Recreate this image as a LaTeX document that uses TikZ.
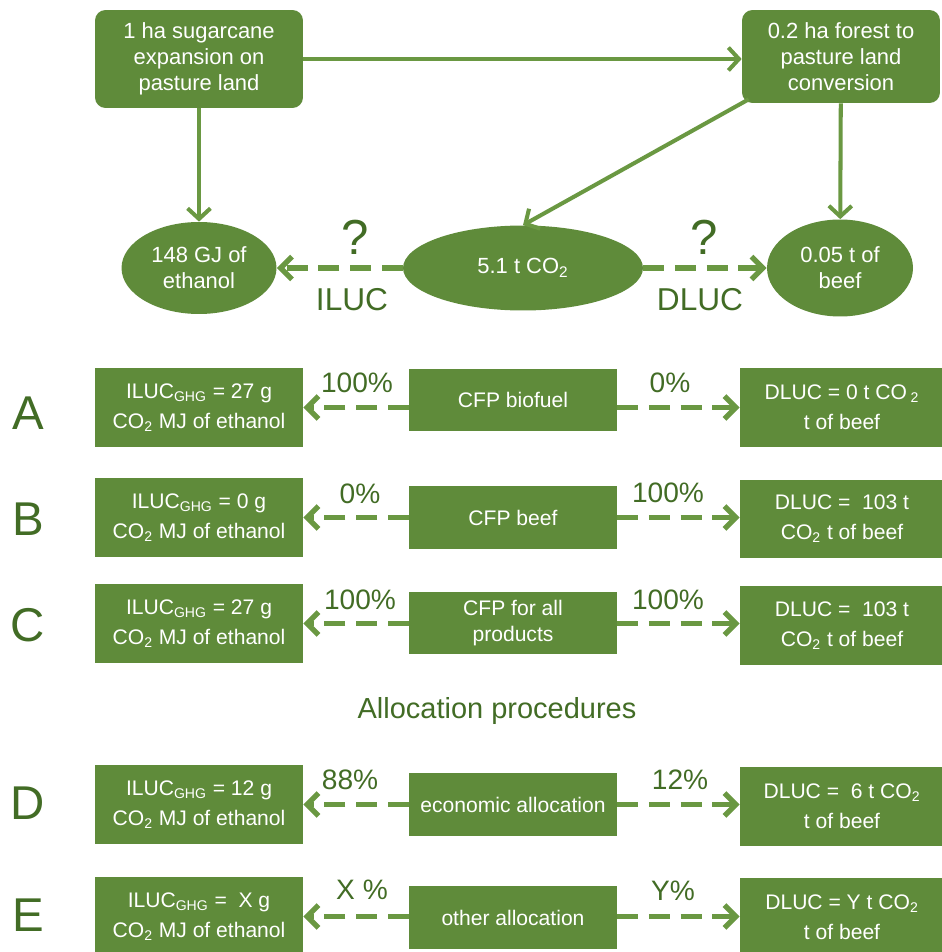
\documentclass[tikz,border=0pt]{standalone}
\usepackage{fontspec}
\setmainfont{Liberation Sans}
\usetikzlibrary{arrows.meta,shapes.geometric}

\definecolor{leaf}{HTML}{5F8B3A}
\definecolor{leafline}{HTML}{6A9842}
\definecolor{leafdark}{HTML}{426C25}

\begin{document}
\begin{tikzpicture}[x=0.02cm, y=-0.02cm,
  roundbox/.style={fill=leaf, rounded corners=6pt, text=white, align=center, inner sep=0pt,
    font=\fontsize{12.5}{14.8}\selectfont},
  blob/.style={ellipse, fill=leaf, text=white, align=center, inner sep=0pt,
    font=\fontsize{12.5}{14.8}\selectfont},
  sidebox/.style={fill=leaf, text=white, align=center, inner sep=0pt, minimum height=1.58cm,
    font=\fontsize{12}{17}\selectfont},
  midbox/.style={fill=leaf, text=white, align=center, inner sep=0pt, minimum width=4.16cm,
    minimum height=1.26cm, font=\fontsize{12}{14.5}\selectfont},
  flow/.style={line width=2.3pt, draw=leafline, -{Straight Barb[length=6pt,width=13pt]}},
  share/.style={line width=3pt, draw=leafline, dash pattern=on 12pt off 6pt,
    -{Straight Barb[length=6.5pt,width=13pt]}},
  pct/.style={text=leafdark, font=\fontsize{16}{18}\selectfont, inner sep=0pt},
  letter/.style={text=leafdark, font=\fontsize{27}{30}\selectfont, inner sep=0pt}]
\useasboundingbox (0,0) rectangle (941,952);

% land use change
\node[roundbox, minimum width=4.16cm, minimum height=1.96cm] (cane) at (199,59)
  {1 ha sugarcane\\expansion on\\pasture land};
\node[roundbox, minimum width=3.96cm, minimum height=1.86cm] (forest) at (841,56.5)
  {0.2 ha forest to\\pasture land\\conversion};
\node[blob, minimum width=3.1cm, minimum height=1.84cm] (ethanol) at (199,268) {148 GJ of\\ethanol};
\node[blob, minimum width=4.8cm, minimum height=1.7cm] (co2) at (523,268) {5.1 t CO\textsubscript{2}};
\node[blob, minimum width=2.92cm, minimum height=1.94cm] (beef) at (840,268) {0.05 t of\\beef};
\path (cane.east) edge[flow] (cane.east -| forest.west);
\path (cane) edge[flow] (ethanol);
\path (forest) edge[flow] (beef);
\path ([shift={(7,-4)}]forest.south west) edge[flow] (co2.north);
\path (co2) edge[share] (ethanol);
\path (co2) edge[share] (beef);
\node[pct, font=\fontsize{28}{30}\selectfont] (q1) at (355,237) {?};
\node[pct, font=\fontsize{28}{30}\selectfont] (q2) at (704,237) {?};
\node[pct, font=\fontsize{18}{20}\selectfont] (iluc) at (352,300) {ILUC};
\node[pct, font=\fontsize{18}{20}\selectfont] (dluc) at (700,300) {DLUC};

% footprint cases
\node[letter] (la) at (28,413) {A};
\node[sidebox, minimum width=4.16cm] (ilucA) at (199,407.5) {ILUC\textsubscript{GHG} = 27 g\\CO\textsubscript{2} MJ of ethanol};
\node[midbox] (cfpA) at (513,400) {CFP biofuel};
\node[sidebox, minimum width=4.08cm] (dlucA) at (842,407.5) {DLUC = 0 t CO\,\textsubscript{2}\\t of beef};
\path (cfpA.west |- ilucA.east) edge[share] (ilucA.east);
\path (cfpA.east |- dlucA.west) edge[share] (dlucA.west);
\node[pct] (pA1) at (357,383) {100\%};
\node[pct] (pA2) at (670,383) {0\%};

\node[letter] (lb) at (28,519) {B};
\node[sidebox, minimum width=4.16cm] (ilucB) at (199,517.5) {ILUC\textsubscript{GHG} = 0 g\\CO\textsubscript{2} MJ of ethanol};
\node[midbox] (cfpB) at (513,517.5) {CFP beef};
\node[sidebox, minimum width=4.08cm] (dlucB) at (842,519) {DLUC = \ 103 t\\CO\textsubscript{2} t of beef};
\path (cfpB.west |- ilucB.east) edge[share] (ilucB.east);
\path (cfpB.east |- ilucB.east) edge[share] (dlucB.west |- ilucB.east);
\node[pct] (pB1) at (360,494) {0\%};
\node[pct] (pB2) at (668,493) {100\%};

\node[letter] (lc) at (28,625) {C};
\node[sidebox, minimum width=4.16cm] (ilucC) at (199,623.5) {ILUC\textsubscript{GHG} = 27 g\\CO\textsubscript{2} MJ of ethanol};
\node[midbox] (cfpC) at (513,623) {CFP for all\\products};
\node[sidebox, minimum width=4.08cm] (dlucC) at (842,625.5) {DLUC = \ 103 t\\CO\textsubscript{2} t of beef};
\path (cfpC.west |- ilucC.east) edge[share] (ilucC.east);
\path (cfpC.east |- ilucC.east) edge[share] (dlucC.west |- ilucC.east);
\node[pct] (pC1) at (360,600) {100\%};
\node[pct] (pC2) at (668,600) {100\%};

\node[pct, font=\fontsize{16.5}{18}\selectfont] (alloc) at (497,711) {Allocation procedures};

\node[letter] (ld) at (28,803) {D};
\node[sidebox, minimum width=4.16cm] (ilucD) at (199,804.5) {ILUC\textsubscript{GHG} = 12 g\\CO\textsubscript{2} MJ of ethanol};
\node[midbox] (cfpD) at (513,804.5) {economic allocation};
\node[sidebox, minimum width=4.08cm] (dlucD) at (842,806) {DLUC = \ 6 t CO\textsubscript{2}\\t of beef};
\path (cfpD.west |- ilucD.east) edge[share] (ilucD.east);
\path (cfpD.east |- ilucD.east) edge[share] (dlucD.west |- ilucD.east);
\node[pct] (pD1) at (350,780) {88\%};
\node[pct] (pD2) at (680,780) {12\%};

\node[letter] (le) at (28,915) {E};
\node[sidebox, minimum width=4.16cm] (ilucE) at (199,916.5) {ILUC\textsubscript{GHG} = \ X g\\CO\textsubscript{2} MJ of ethanol};
\node[midbox] (cfpE) at (513,917.5) {other allocation};
\node[sidebox, minimum width=4.08cm] (dlucE) at (842,917.5) {DLUC = Y t CO\textsubscript{2}\\t of beef};
\path (cfpE.west |- ilucE.east) edge[share] (ilucE.east);
\path (cfpE.east |- ilucE.east) edge[share] (dlucE.west |- ilucE.east);
\node[pct] (pE1) at (362,890) {X \%};
\node[pct] (pE2) at (673,891) {Y\%};
\end{tikzpicture}
\end{document}
